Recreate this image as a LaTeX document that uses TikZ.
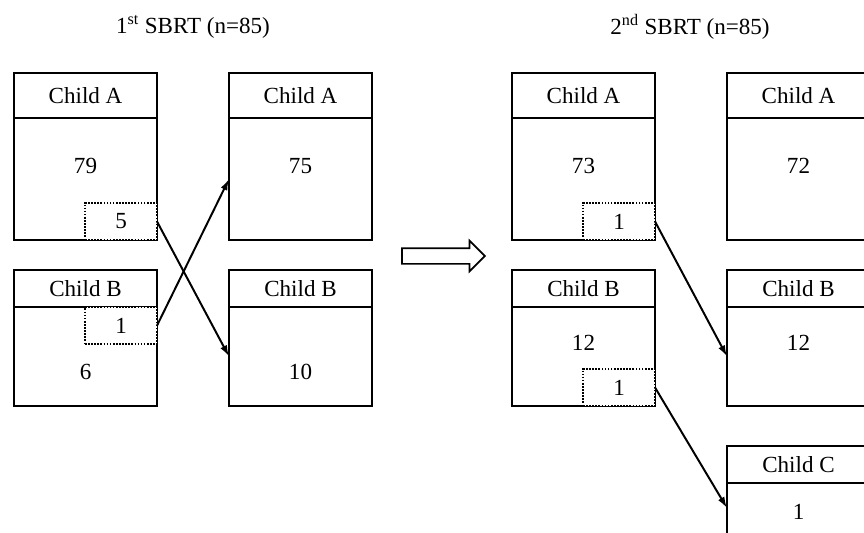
\documentclass[tikz,border=0pt]{standalone}
\usepackage{fontspec}
\setmainfont{Liberation Serif}
\usetikzlibrary{shapes.arrows,arrows.meta,positioning}

\begin{document}
\begin{tikzpicture}[x=0.025cm,y=-0.025cm, node distance=0pt,
  every node/.style={font=\fontsize{16.4}{19}\selectfont},
  hdr/.style={draw,line width=1.6pt,outer sep=0pt,inner sep=0pt,minimum width=3.575cm,minimum height=#1},
  hdr/.default=0.925cm,
  cell/.style={draw,line width=1.6pt,outer sep=0pt,inner sep=0pt,minimum width=3.575cm,minimum height=#1},
  moved/.style={draw,fill=white,densely dotted,line width=1.2pt,outer sep=0pt,inner sep=0pt,minimum width=1.8cm,minimum height=0.925cm},
  flow/.style={-{Latex[length=2.8mm,width=1.8mm]},line width=1.4pt}]
  \path[use as bounding box,clip] (0,0) rectangle (864,533);

  % titles
  \node (t1) at (193,27) {1\textsuperscript{st} SBRT (n=85)};
  \node (t2) at (690,27) {2\textsuperscript{nd} SBRT (n=85)};

  % 1st SBRT, left column
  \node[hdr=1.125cm,anchor=north west] (fAh) at (14,73) {Child A};
  \node[cell=3.05cm,below=of fAh] (fA) {};
  \node[hdr,anchor=north west] (fBh) at (14,270) {Child B};
  \node[cell=2.475cm,below=of fBh] (fB) {};
  \node at ([yshift=-1.2cm]fA.north) {79};
  \node at ([yshift=-1.625cm]fB.north) {6};
  \node[moved,anchor=south east] (fAd) at (fA.south east) {5};
  \node[moved,anchor=north east] (fBd) at (fB.north east) {1};

  % 1st SBRT, right column
  \node[hdr=1.125cm,anchor=north west] (fA2h) at (229,73) {Child A};
  \node[cell=3.05cm,below=of fA2h] (fA2) {};
  \node[hdr,anchor=north west] (fB2h) at (229,270) {Child B};
  \node[cell=2.475cm,below=of fB2h] (fB2) {};
  \node at ([yshift=-1.2cm]fA2.north) {75};
  \node at ([yshift=-1.625cm]fB2.north) {10};

  % between the two
  \node[single arrow,draw,line width=1.2pt,inner xsep=0pt,inner ysep=0.175cm,
        minimum height=2.075cm,single arrow head extend=0.19cm] (shift) at (439.5,256) {};

  % 2nd SBRT, left column
  \node[hdr=1.125cm,anchor=north west] (sAh) at (512,73) {Child A};
  \node[cell=3.05cm,below=of sAh] (sA) {};
  \node[hdr,anchor=north west] (sBh) at (512,270) {Child B};
  \node[cell=2.475cm,below=of sBh] (sB) {};
  \node at ([yshift=-1.2cm]sA.north) {73};
  \node at ([yshift=-0.9cm]sB.north) {12};
  \node[moved,anchor=south east] (sAd) at (sA.south east) {1};
  \node[moved,anchor=south east] (sBd) at (sB.south east) {1};

  % 2nd SBRT, right column
  \node[hdr=1.125cm,anchor=north west] (sA2h) at (727,73) {Child A};
  \node[cell=3.05cm,below=of sA2h] (sA2) {};
  \node[hdr,anchor=north west] (sB2h) at (727,270) {Child B};
  \node[cell=2.475cm,below=of sB2h] (sB2) {};
  \node[hdr,anchor=north west] (sC2h) at (727,446) {Child C};
  \node[cell=2.475cm,below=of sC2h] (sC2) {};
  \node at ([yshift=-1.2cm]sA2.north) {72};
  \node at ([yshift=-0.9cm]sB2.north) {12};
  \node at ([yshift=-0.725cm]sC2.north) {1};

  % reassignments
  \foreach \a/\b in {fAd/fB2,fBd/fA2,sAd/sB2}{\draw[flow] (\a.east)--(\b.west);}
  \draw[flow] (sBd.east)--([yshift=-0.625cm]sC2.north west);
\end{tikzpicture}
\end{document}
